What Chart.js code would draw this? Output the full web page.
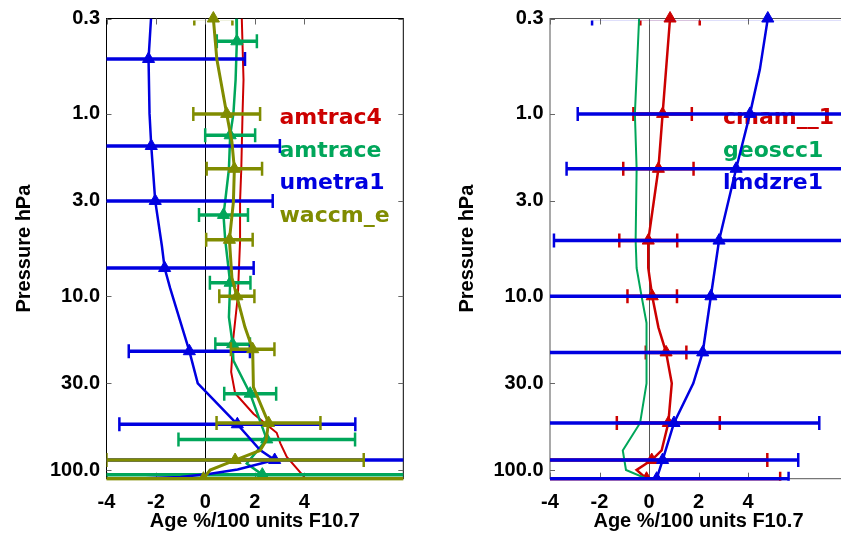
<!DOCTYPE html>
<html>
<head>
<meta charset="utf-8">
<script src="https://cdn.jsdelivr.net/npm/chart.js@4.4.1/dist/chart.umd.min.js"></script>
<style>
  html, body { margin: 0; padding: 0; background: #fff; overflow: hidden; width: 841px; height: 533px; }
  canvas { position: absolute; top: 0; }
  #leftChart { left: 0; }
  #rightChart { left: 443px; }
</style>
</head>
<body>
<canvas id="leftChart" width="430" height="533"></canvas>
<canvas id="rightChart" width="430" height="533"></canvas>
<script>
// axis ticks (the last tick sits a little above the bottom edge in the original)
const xTickVals = [-4, -2, 0, 2, 4];
const yTickVals = [0.3, 1, 3, 10, 30, 90];
const yTickLabels = ['0.3', '1.0', '3.0', '10.0', '30.0', '100.0'];

// ---- left panel ----
const amtrac4P = [0.3, 0.65, 1.0, 2.0, 3.0, 5.0, 10, 16.8, 26, 34, 44, 56, 64, 76, 98];
const amtrac4X = [1.47, 1.54, 1.5, 1.45, 1.4, 1.4, 1.31, 1.13, 1.04, 1.2, 1.94, 2.88, 3.03, 3.29, 4.0];

const amtraceP = [0.3, 0.40, 0.65, 1.0, 1.31, 2.0, 3.0, 3.58, 4.9, 8.43, 13, 18.3, 22.5, 34.2, 60.9, 82.6, 95];
const amtraceX = [1.25, 1.27, 1.22, 1.13, 1.0, 0.95, 0.8, 0.73, 0.8, 1.0, 0.95, 1.1, 1.13, 1.81, 2.48, 1.67, 2.3];
const amtraceMP = [0.40, 1.31, 3.58, 8.43, 18.3, 34.2, 60.9, 95];
const amtraceMX = [1.27, 1.0, 0.73, 1.0, 1.1, 1.81, 2.48, 2.3];
const amtraceErr = [0.81, 1.01, 0.99, 0.82, 0.7, 1.05, 3.57, 7];

const umetraP = [0.3, 0.5, 1.0, 1.5, 3.0, 5.3, 7.0, 9.0, 20, 30, 50.3, 69.7, 79, 89, 94, 98, 100];
const umetraX = [-2.2, -2.3, -2.26, -2.19, -2.03, -1.76, -1.65, -1.43, -0.65, -0.31, 1.29, 2.21, 2.8, 1.3, 0.2, -1.0, -3.0];
const umetraMP = [0.5, 1.5, 3.0, 7.0, 20, 50.3, 79];
const umetraMX = [-2.3, -2.19, -2.03, -1.65, -0.65, 1.29, 2.8];
const umetraErr = [3.9, 5.2, 4.75, 3.6, 2.45, 4.77, 7.0];

const waccmP = [0.3, 0.5, 1.0, 1.42, 2.0, 3.05, 4.9, 7.9, 10, 14.8, 19.5, 31.5, 49.5, 62, 70, 79, 89.6, 100];
const waccmX = [0.32, 0.46, 0.86, 1.07, 1.17, 1.13, 0.97, 1.07, 1.27, 1.6, 1.91, 1.94, 2.55, 2.45, 2.21, 1.2, 0.19, -0.08];
const waccmMP = [0.3, 1.0, 2.0, 4.9, 10, 19.5, 49.5, 79, 100];
const waccmMX = [0.32, 0.86, 1.17, 0.97, 1.27, 1.91, 2.55, 1.2, -0.08];
const waccmErr = [0.77, 1.35, 1.12, 0.94, 0.71, 0.88, 2.1, 5.2, 9];

// ---- right panel ----
const cmamP = [0.3, 1.0, 2.0, 4.95, 7, 10, 14.8, 20.3, 30, 49.5, 70, 79, 89.6, 100];
const cmamX = [0.85, 0.55, 0.38, -0.03, -0.03, 0.13, 0.38, 0.69, 0.92, 0.78, 0.51, 0.11, -0.5, -0.1];
const cmamMP = [0.3, 1.0, 2.0, 4.95, 10, 20.3, 49.5, 79, 100];
const cmamMX = [0.85, 0.55, 0.38, -0.03, 0.13, 0.69, 0.78, 0.11, -0.1];
const cmamErr = [1.2, 1.18, 1.42, 1.17, 1.0, 0.82, 2.08, 4.67, 5.4];

const geosccP = [0.3, 1.0, 2.0, 4.95, 7, 10, 14, 20.3, 30, 49.5, 70, 89.6, 100];
const geosccX = [-0.4, -0.57, -0.5, -0.54, -0.5, -0.3, -0.1, -0.1, -0.1, -0.36, -1.06, -0.93, -0.1];

const lmdzP = [0.3, 0.57, 1.0, 2.0, 4.95, 10, 20.3, 30, 49.5, 79, 100];
const lmdzX = [4.8, 4.48, 4.08, 3.52, 2.83, 2.5, 2.17, 1.79, 1.01, 0.55, 0.31];
const lmdzMP = [0.3, 1.0, 2.0, 4.95, 10, 20.3, 49.5, 79, 100];
const lmdzMX = [4.8, 4.08, 3.52, 2.83, 2.5, 2.17, 1.01, 0.55, 0.31];
const lmdzErr = [7.1, 6.96, 6.85, 6.67, 7.5, 7.5, 5.87, 5.48, 5.33];

const red = '#cc0000', green = '#00a65a', blue = '#0000e0', olive = '#808c00';
const boldFont = { family: '"Liberation Sans", Arial, sans-serif', weight: 'bold', size: 20 };

function toPts(p, x) {
    return p.map((v, i) => ({ x: x[i], y: v }));
}

// one curve, its error bars and its triangles; earlier series end up underneath
function buildDatasets(list) {
    let out = [];
    list.forEach((s, k) => {
        let base = (list.length - k) * 10;
        out.push({
            data: toPts(s.p, s.x),
            borderColor: s.color,
            borderWidth: s.lw,
            pointRadius: 0,
            tension: 0,
            order: base + 2
        });
        if (!s.mp) return;
        s.mp.forEach((p, i) => {
            out.push({
                data: [{ x: s.mx[i] - s.err[i], y: p }, { x: s.mx[i] + s.err[i], y: p }],
                borderColor: s.color,
                borderWidth: 3.5,
                pointStyle: 'line',
                rotation: 90,
                pointRadius: 7,
                pointBorderWidth: 2.5,
                pointBorderColor: s.color,
                order: base + 1,
                clip: { left: 0, right: 0, top: -2, bottom: 2 }
            });
        });
        out.push({
            data: toPts(s.mp, s.mx),
            showLine: false,
            pointStyle: 'triangle',
            pointRadius: 7,
            pointBackgroundColor: s.color,
            pointBorderColor: s.color,
            pointBorderWidth: 1,
            order: base,
            clip: { left: 10, right: 10, top: 10, bottom: 0 }
        });
    });
    return out;
}

// frame, zero line, inward ticks and the coloured name list
function decoPlugin(names, colors, frame) {
    return {
        id: 'deco',
        beforeDatasetsDraw(chart) {
            const { ctx, chartArea: a, scales: { x, y } } = chart;
            ctx.save();
            ctx.lineWidth = 1;
            ctx.strokeStyle = frame;
            let x0 = Math.round(x.getPixelForValue(0)) + 0.5;
            ctx.beginPath();
            ctx.moveTo(x0, a.top);
            ctx.lineTo(x0, a.bottom);
            ctx.stroke();
            ctx.strokeRect(a.left, a.top, a.right - a.left, a.bottom - a.top);

            ctx.strokeStyle = '#666';
            ctx.beginPath();
            xTickVals.forEach(v => {
                let px = Math.round(x.getPixelForValue(v)) + 0.5;
                ctx.moveTo(px, a.top); ctx.lineTo(px, a.top + 6);
                ctx.moveTo(px, a.bottom); ctx.lineTo(px, a.bottom - 6);
            });
            yTickVals.forEach(v => {
                let py = Math.round(y.getPixelForValue(v)) + 0.5;
                ctx.moveTo(a.left, py); ctx.lineTo(a.left + 5, py);
                ctx.moveTo(a.right, py); ctx.lineTo(a.right - 5, py);
            });
            ctx.stroke();

            ctx.font = 'bold 22px "DejaVu Sans"';
            ctx.textBaseline = 'alphabetic';
            names.forEach((n, i) => {
                ctx.fillStyle = colors[i];
                ctx.fillText(n, a.left + 173, a.top + 105.7 + 32.5 * i);
            });
            ctx.restore();
        }
    };
}

function makePanel(canvas, list, frame, yWidth, padRight) {
    return new Chart(canvas, {
        type: 'line',
        data: { datasets: buildDatasets(list) },
        options: {
            responsive: false,
            animation: false,
            devicePixelRatio: 1,
            layout: { padding: { left: 0, top: 15.8, right: padRight, bottom: 0 } },
            plugins: { legend: { display: false }, tooltip: { enabled: false } },
            scales: {
                x: {
                    type: 'linear',
                    min: -4,
                    max: 8,
                    afterBuildTicks: s => { s.ticks = xTickVals.map(v => ({ value: v })); },
                    afterFit: s => { s.height = 54.3; },
                    grid: { display: false, drawTicks: false },
                    border: { display: false },
                    ticks: { autoSkip: false, maxRotation: 0, padding: 12, color: '#000', font: boldFont },
                    title: { display: true, text: 'Age %/100 units F10.7', color: '#000', font: boldFont, padding: { top: 0, bottom: 0 } }
                },
                y: {
                    type: 'logarithmic',
                    reverse: true,
                    min: 0.3,
                    max: 100,
                    afterBuildTicks: s => { s.ticks = yTickVals.map(v => ({ value: v })); },
                    afterFit: s => { s.width = yWidth; },
                    grid: { display: false, drawTicks: false },
                    border: { display: false },
                    ticks: { autoSkip: false, padding: 6.5, color: '#000', font: boldFont, callback: (v, i) => yTickLabels[i] },
                    title: { display: true, text: 'Pressure hPa', color: '#000', font: boldFont, padding: { top: 12, bottom: 0 } }
                }
            }
        },
        plugins: [decoPlugin(list.map(s => s.name), list.map(s => s.color), frame)]
    });
}

makePanel(document.getElementById('leftChart'), [
    { name: 'amtrac4', color: red, lw: 2, p: amtrac4P, x: amtrac4X },
    { name: 'amtrace', color: green, lw: 2.5, p: amtraceP, x: amtraceX, mp: amtraceMP, mx: amtraceMX, err: amtraceErr },
    { name: 'umetra1', color: blue, lw: 2.5, p: umetraP, x: umetraX, mp: umetraMP, mx: umetraMX, err: umetraErr },
    { name: 'waccm_e', color: olive, lw: 3, p: waccmP, x: waccmX, mp: waccmMP, mx: waccmMX, err: waccmErr }
], '#000', 106.5, 26.7);

makePanel(document.getElementById('rightChart'), [
    { name: 'cmam__1', color: red, lw: 2.5, p: cmamP, x: cmamX, mp: cmamMP, mx: cmamMX, err: cmamErr },
    { name: 'geoscc1', color: green, lw: 2, p: geosccP, x: geosccX },
    { name: 'lmdzre1', color: blue, lw: 2.5, p: lmdzP, x: lmdzX, mp: lmdzMP, mx: lmdzMX, err: lmdzErr }
], '#555', 107, 26);
</script>
</body>
</html>
